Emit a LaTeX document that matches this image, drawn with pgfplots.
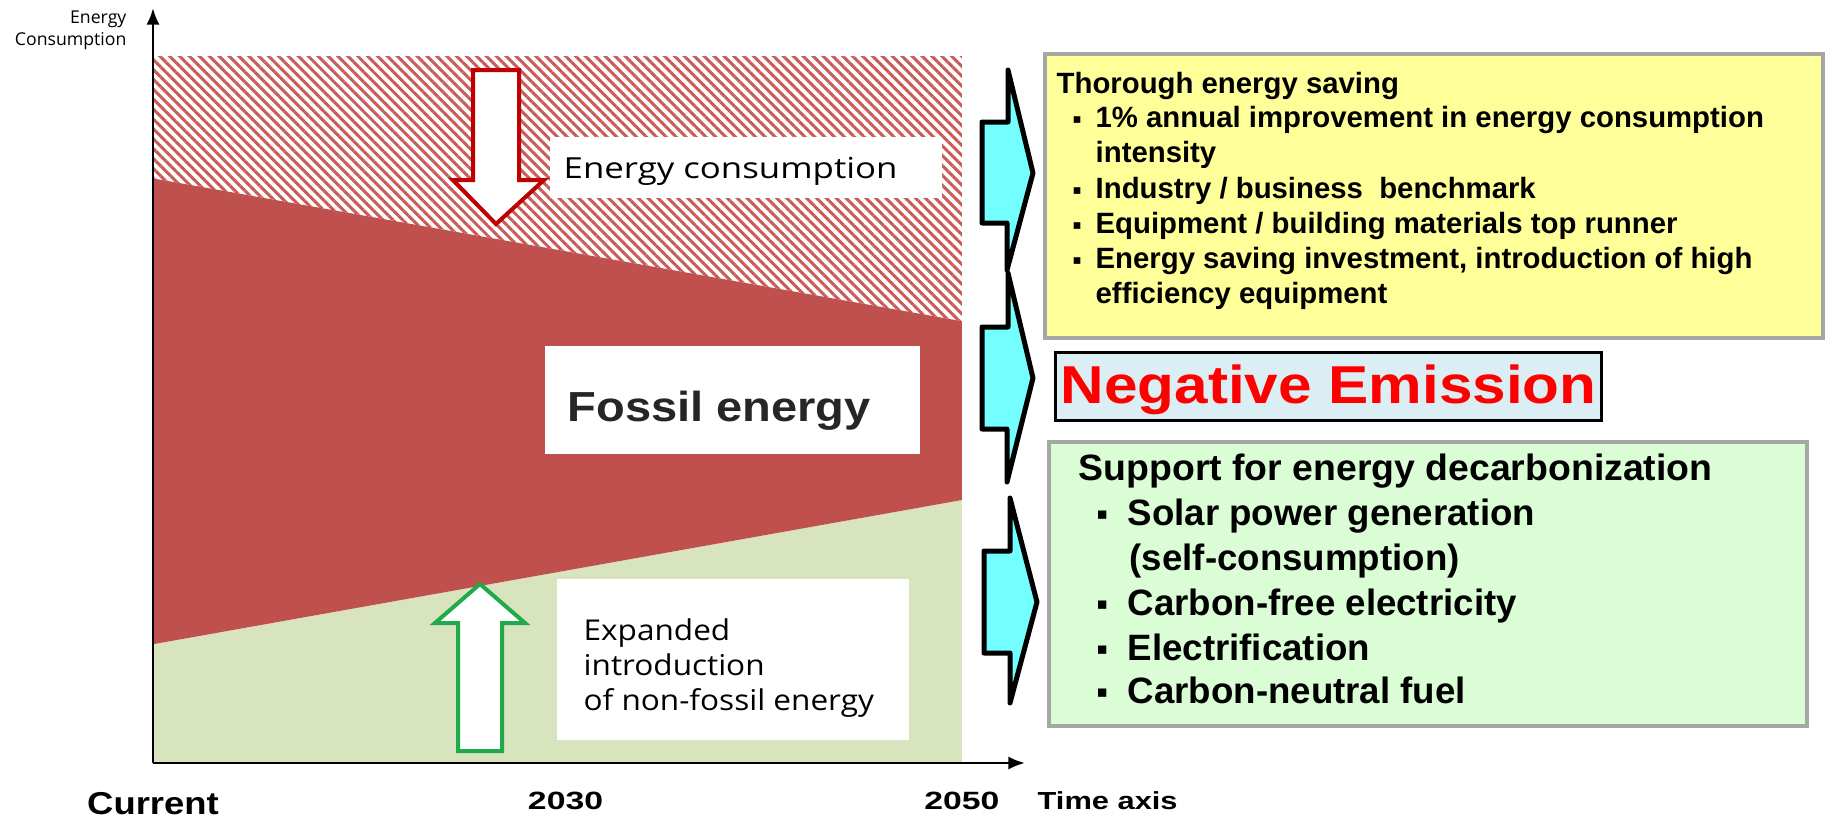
\documentclass[border=0pt]{standalone}
\usepackage{pgfplots}
\pgfplotsset{compat=1.18}
\usepackage{fontspec}
\setmainfont{Liberation Sans}
\newfontfamily\osans{Open Sans}
\newfontfamily\dejavu{DejaVu Sans}
\usepackage{graphicx}
\usetikzlibrary{patterns.meta,arrows.meta}
\definecolor{fossil}{HTML}{C0504D}
\definecolor{nonfossil}{HTML}{D7E4BD}
\definecolor{hatch}{HTML}{C95B58}
\definecolor{arrowred}{HTML}{C00000}
\definecolor{arrowgreen}{HTML}{1FAA4C}
\definecolor{cyanfill}{HTML}{73FFFF}
\definecolor{yellowbox}{HTML}{FFFF99}
\definecolor{greenbox}{HTML}{DAFDD6}
\definecolor{bluebox}{HTML}{DAEEF3}
\definecolor{boxgray}{HTML}{A6A6A6}
\definecolor{darktext}{HTML}{262626}
\newcommand\fs[1]{\fontsize{#1}{#1}\selectfont}
\newcommand\sx[2]{\scalebox{#1}[1]{#2}}
\newcommand\bul[1]{{\dejavu\fontsize{#1}{#1}\selectfont ▪}}

\begin{document}
\begin{tikzpicture}
\begin{scope}[x=0.3pt,y=-0.3pt]
\useasboundingbox (0,0) rectangle (1827,817);
\end{scope}
\begin{axis}[
  at={(45.9pt,-228.9pt)}, anchor=south west,
  scale only axis, width=261.6pt, height=226.5pt,
  xmin=0, xmax=107.8, ymin=0, ymax=106.8,
  axis lines=left,
  axis line style={line width=0.8pt, -{Latex[length=5pt,width=4pt]}},
  axis on top,
  ytick=\empty,
  xtick={0,51,100},
  xticklabels={{\sx{1.15}{\fs{9.5}\bfseries Current}},{\sx{1.35}{\fs{7.5}\bfseries 2030}},{\sx{1.35}{\fs{7.5}\bfseries 2050}}},
  major tick length=0pt,
  xticklabel style={anchor=north, inner sep=0pt, yshift=-8.6pt},
  xlabel={\sx{1.25}{\fs{7.4}\bfseries Time axis}},
  every axis x label/.style={at={(axis description cs:1.0138,-0.0610)}, anchor=base west, inner sep=0pt},
  ylabel={Energy\\Consumption},
  every axis y label/.style={at={(axis description cs:-0.0298,0.997)}, anchor=north east, align=right, inner sep=0pt, font=\osans\fontsize{5.3}{6.6}\selectfont},
  clip=false,
]
\addplot[draw=none, fill=nonfossil] coordinates {(0,0) (0,16.8) (100,37.2) (100,0)} -- cycle;
\addplot[draw=none, fill=fossil] coordinates {(0,16.8) (0,82.7) (100,62.5) (100,37.2)} -- cycle;
\addplot[draw=none, pattern={Lines[angle=-45,distance=2.1pt,line width=0.9pt]}, pattern color=hatch] coordinates {(0,82.7) (0,100) (100,100) (100,62.5)} -- cycle;
\end{axis}
\begin{scope}[x=0.3pt,y=-0.3pt]
% white labels inside the chart
\fill[white] (550,137) rectangle (942,198);
\node[anchor=base west, inner sep=0pt, font=\osans\fs{8.7}] at (563,178) {\sx{1.2}{Energy consumption}};
\fill[white] (545,346) rectangle (920,454);
\node[anchor=base west, inner sep=0pt, font=\bfseries\fs{12.6}, text=darktext] at (567,421) {\sx{1.12}{Fossil energy}};
\fill[white] (557,579) rectangle (909,740);
\node[anchor=base west, inner sep=0pt, font=\osans\fs{8.6}] at (583,640) {\sx{1.1}{Expanded}};
\node[anchor=base west, inner sep=0pt, font=\osans\fs{8.6}] at (583,675) {\sx{1.1}{introduction}};
\node[anchor=base west, inner sep=0pt, font=\osans\fs{8.6}] at (583,710) {\sx{1.1}{of non-fossil energy}};
% arrows
\draw[arrowred, line width=1.2pt, fill=white, line join=miter] (473,70) -- (519,70) -- (519,180) -- (544,180) -- (496,224) -- (453,180) -- (473,180) -- cycle;
\draw[arrowgreen, line width=1.2pt, fill=white, line join=miter] (480,584) -- (525,623) -- (502,623) -- (502,751) -- (458,751) -- (458,623) -- (435,623) -- cycle;
\draw[black, line width=1.5pt, fill=cyanfill, line join=round] (1008,70) -- (1033,173) -- (1007,270) -- (1007,223) -- (982,223) -- (982,122) -- (1008,122) -- cycle;
\draw[black, line width=1.5pt, fill=cyanfill, line join=round] (1008,273) -- (1033,378) -- (1007,482) -- (1007,429) -- (982,429) -- (982,327) -- (1008,327) -- cycle;
\draw[black, line width=1.5pt, fill=cyanfill, line join=round] (1010,498) -- (1037,602) -- (1010,703) -- (1010,653) -- (984,653) -- (984,551) -- (1010,551) -- cycle;
% boxes
\draw[boxgray, line width=1.2pt, fill=yellowbox] (1045,54) rectangle (1823,338);
\draw[black, line width=0.9pt, fill=bluebox] (1055.5,352.5) rectangle (1601.5,420.5);
\draw[boxgray, line width=1.2pt, fill=greenbox] (1049,442) rectangle (1807,726);
% yellow box text
\begin{scope}[every node/.style={anchor=base west, inner sep=0pt, font=\bfseries\fs{8.8}}]
\node at (1056,93) {Thorough energy saving};
\node at (1072,123) {\bul{4}}; \node at (1095,127) {1\% annual improvement in energy consumption};
\node at (1095,162) {intensity};
\node at (1072,194) {\bul{4}}; \node at (1095,198) {Industry / business~ benchmark};
\node at (1072,229) {\bul{4}}; \node at (1095,233) {Equipment / building materials top runner};
\node at (1072,264) {\bul{4}}; \node at (1095,268) {Energy saving investment, introduction of high};
\node at (1095,303) {efficiency equipment};
\end{scope}
% negative emission
\node[anchor=base west, inner sep=0pt, font=\bfseries\fs{16}, text=red] at (1060,403) {\sx{1.13}{Negative Emission}};
% green box text
\begin{scope}[every node/.style={anchor=base west, inner sep=0pt, font=\bfseries\fs{11}}]
\node at (1078,480) {\sx{1.02}{Support for energy decarbonization}};
\node at (1096,519) {\bul{5}}; \node at (1127,525) {Solar power generation};
\node at (1129,570) {(self-consumption)};
\node at (1096,609) {\bul{5}}; \node at (1127,615) {Carbon-free electricity};
\node at (1096,654) {\bul{5}}; \node at (1127,660) {Electrification};
\node at (1096,697) {\bul{5}}; \node at (1127,703) {Carbon-neutral fuel};
\end{scope}
\end{scope}
\end{tikzpicture}
\end{document}
